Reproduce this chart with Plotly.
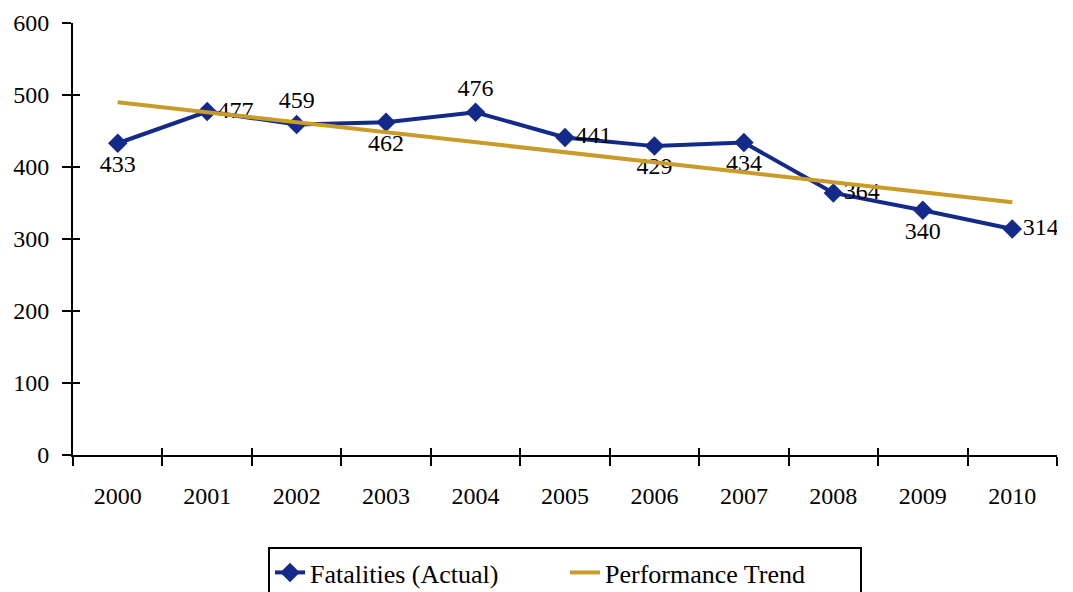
import plotly.graph_objects as go

# DATA
years = ["2000", "2001", "2002", "2003", "2004", "2005", "2006", "2007", "2008", "2009", "2010"]
fatalities = [433, 477, 459, 462, 476, 441, 429, 434, 364, 340, 314]
label_pos = ["bottom center", "middle right", "top center", "bottom center", "top center",
             "middle right", "bottom center", "bottom center", "middle right", "bottom center",
             "middle right"]
trend_years = ["2000", "2010"]
trend_values = [490, 351]
y_ticks = [0, 100, 200, 300, 400, 500, 600]

# THEME
BLUE = "#132a8a"
GOLD = "#c99b28"
FONT = "Liberation Serif, serif"

fig = go.Figure()

fig.add_trace(go.Scatter(
    x=years, y=fatalities, name="Fatalities (Actual)",
    mode="lines+markers+text",
    line=dict(color=BLUE, width=4),
    marker=dict(symbol="diamond", size=15, color=BLUE),
    text=[str(v) for v in fatalities],
    textposition=label_pos,
    textfont=dict(color="black", size=24, family=FONT),
))

fig.add_trace(go.Scatter(
    x=trend_years, y=trend_values, name="Performance Trend",
    mode="lines",
    line=dict(color=GOLD, width=4),
))

# invisible trace so the overlay axes (inner half of crossing ticks) get drawn
fig.add_trace(go.Scatter(x=years, y=fatalities, xaxis="x2", yaxis="y2",
                         mode="markers", marker=dict(opacity=0), showlegend=False,
                         hoverinfo="skip"))

axis_font = dict(color="black", size=24, family=FONT)

fig.update_layout(
    width=1073, height=592,
    paper_bgcolor="white", plot_bgcolor="white",
    margin=dict(l=73, r=16, t=23, b=137, autoexpand=False),
    font=dict(family=FONT, color="black", size=24),
    showlegend=True,
    legend=dict(
        orientation="h", x=0.5, xanchor="center", y=-0.213, yanchor="top",
        bordercolor="black", borderwidth=2,
        font=dict(size=26, family=FONT, color="black"),
        entrywidth=250, tracegroupgap=0,
    ),
    xaxis=dict(
        type="category", categoryorder="array", categoryarray=years,
        range=[-0.5, 10.5], automargin=False,
        showline=True, linecolor="black", linewidth=2,
        ticks="outside", tickson="boundaries", ticklen=9, tickwidth=2, tickcolor="black",
        showgrid=False, zeroline=False,
        tickfont=axis_font, ticklabelstandoff=18,
    ),
    yaxis=dict(
        range=[0, 600], tickvals=y_ticks, automargin=False,
        showline=True, linecolor="black", linewidth=2,
        ticks="outside", ticklen=9, tickwidth=2, tickcolor="black",
        showgrid=False, zeroline=False,
        tickfont=axis_font, ticklabelstandoff=8,
    ),
    xaxis2=dict(
        type="category", categoryorder="array", categoryarray=years,
        range=[-0.5, 10.5], overlaying="x", side="bottom", automargin=False,
        ticks="inside", tickson="boundaries", ticklen=7, tickwidth=2, tickcolor="black",
        showticklabels=False, showgrid=False, zeroline=False, showline=False,
    ),
    yaxis2=dict(
        range=[0, 600], tickvals=y_ticks, overlaying="y", side="left", automargin=False,
        ticks="inside", ticklen=7, tickwidth=2, tickcolor="black",
        showticklabels=False, showgrid=False, zeroline=False, showline=False,
    ),
)

# drop the browser's default 8px body margin so the figure sits at the page corner
fig.write_html("out.html", config={"displayModeBar": False},
               post_script="document.body.style.margin='0';")
